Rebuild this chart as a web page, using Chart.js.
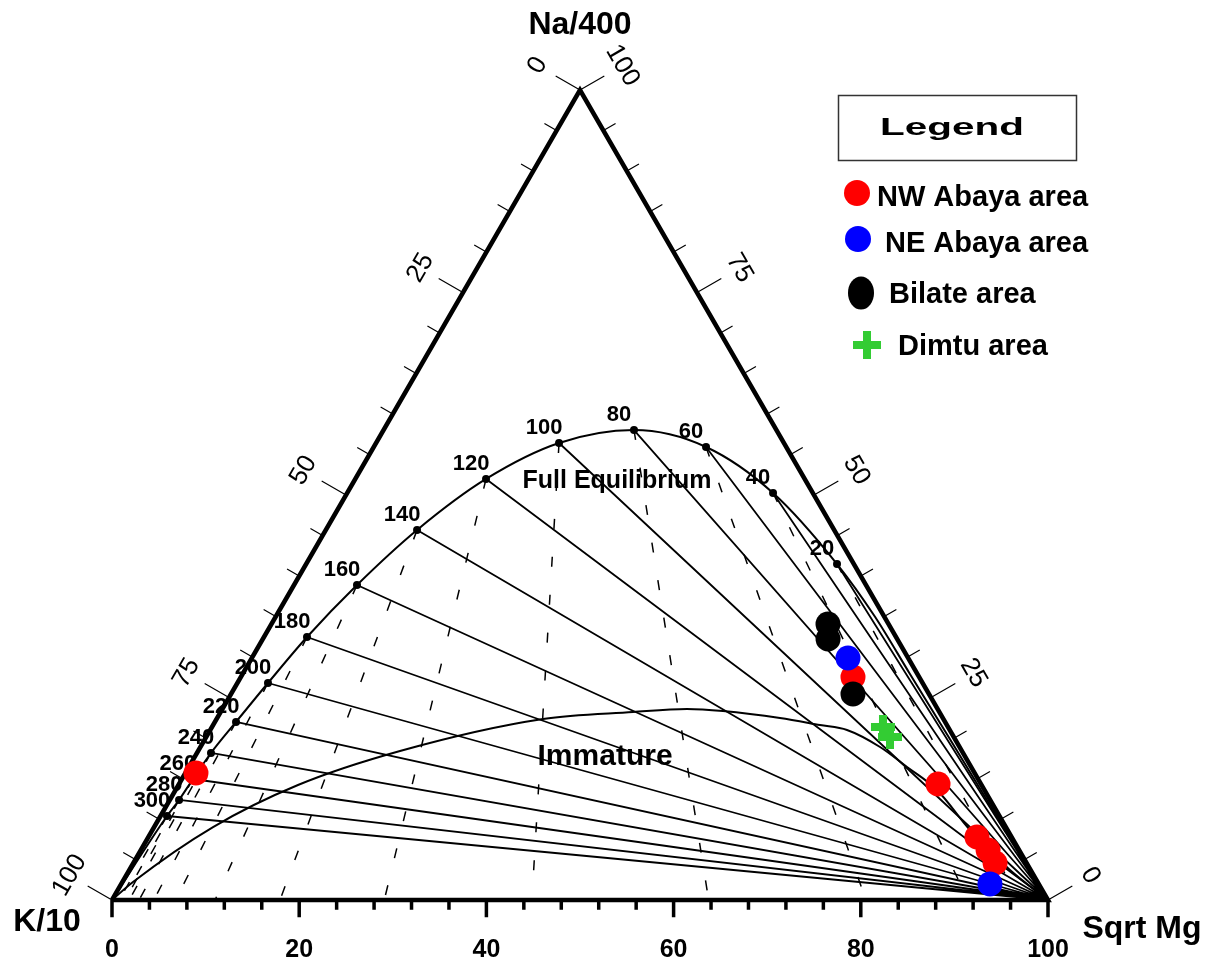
<!DOCTYPE html>
<html>
<head>
<meta charset="utf-8">
<title>Na-K-Mg ternary diagram</title>
<script src="https://cdn.jsdelivr.net/npm/chart.js@4.4.0/dist/chart.umd.min.js"></script>
<style>
  html, body { margin: 0; padding: 0; background: #fff; }
  #wrap { width: 1211px; height: 966px; }
</style>
</head>
<body>
<div id="wrap"><canvas id="giggenbach" width="1211" height="966"></canvas></div>
<script>
// --- Data (all in % of the triangle: Sqrt Mg, Na/400 ; K/10 = the rest) ---

// Full equilibrium line, temperature marks (°C)
const eqTemps = [300, 280, 260, 240, 220, 200, 180, 160, 140, 120, 100, 80, 60, 40, 20];
const eqMg = [0.69, 0.99, 1.18, 1.50, 2.26, 3.27, 4.60, 6.73, 9.75, 13.97, 19.55, 26.76, 35.50, 45.50, 56.72];
const eqNa = [10.37, 12.35, 14.94, 18.15, 21.98, 26.79, 32.47, 38.89, 45.68, 51.98, 56.42, 58.02, 55.93, 50.25, 41.48];
// full equilibrium line below 20 °C, down to the Mg corner
const eqTailMg = [64.0, 71.2, 79.45, 87.65, 94.85, 100];
const eqTailNa = [35.0, 28.0, 20.0, 12.0, 5.0, 0];

// "Immature" waters line
const immMg = [0, 1.13, 6.29, 12.77, 21.57, 34.87, 44.06, 49.64, 53.61, 60.13, 64.84, 68.03, 72.61, 76.73, 81.35, 87.35, 94.09, 100];
const immNa = [0, 2.22, 9.01, 14.20, 18.40, 22.35, 23.21, 23.58, 23.33, 22.47, 21.60, 20.99, 18.89, 16.42, 13.58, 8.64, 3.70, 0];

// Samples
const nwMg = [1.13, 65.40, 81.09, 88.52, 90.51, 92.06];
const nwNa = [15.68, 27.53, 14.32, 7.78, 6.17, 4.57];
const neMg = [63.69, 92.81];
const neNa = [29.88, 1.98];
const bilMg = [59.46, 60.39, 66.45];
const bilNa = [34.07, 32.22, 25.43];
const dimMg = [71.69, 73.06];
const dimNa = [21.36, 20.12];

// Axis labels
const baseLabels = [0, 20, 40, 60, 80, 100];
const edgeLabels = [0, 25, 50, 75, 100];

// --- Helpers ---
const SQ3 = Math.sqrt(3) / 2;
const FONT = '"Liberation Sans", Arial, Helvetica, sans-serif';
const GAP = { x: null, y: null };

// ternary (Mg, Na) -> plane coordinates
function tern(mg, na) {
    return { x: mg + na / 2, y: na * SQ3 };
}
const toPoints = (mgs, nas) => mgs.map((m, i) => tern(m, nas[i]));

// equilibrium line = K corner + temperature marks + tail
const eqLine = [tern(0, 0)].concat(toPoints(eqMg, eqNa), toPoints(eqTailMg, eqTailNa));

// Na/K isotherms: from each mark to the Mg corner
const naKLines = [];
// K/Mg isotherms: from each mark down to the K-Mg side (away from the Na corner)
const kMgLines = [];
eqMg.forEach((m, i) => {
    const na = eqNa[i];
    const k = 100 - m - na;
    naKLines.push(tern(m, na), tern(100, 0), GAP);
    kMgLines.push(tern(m, na), tern(m / (m + k) * 100, 0), GAP);
});

// triangle frame
const frame = [tern(0, 0), tern(100, 0), tern(0, 100), tern(0, 0)];

// ticks
const baseTicks = [];
for (let v = 0; v <= 100; v += 4) {
    const len = v % 20 === 0 ? 1.85 : 1.05;
    baseTicks.push({ x: v, y: 0 }, { x: v, y: -len }, GAP);
}
const sideTicks = [];
for (let v = 0; v <= 100; v += 5) {
    const len = v % 25 === 0 ? 3.0 : 1.5;
    const l = tern(0, 100 - v);   // left side: K/10 = v
    sideTicks.push(l, { x: l.x - SQ3 * len, y: l.y + 0.5 * len }, GAP);
    const r = tern(100 - v, v);   // right side: Na/400 = v
    sideTicks.push(r, { x: r.x + SQ3 * len, y: r.y + 0.5 * len }, GAP);
}

function lineSet(data, width, extra) {
    return Object.assign({
        data: data,
        showLine: true,
        borderColor: '#000',
        borderWidth: width,
        pointRadius: 0,
        fill: false,
        clip: false
    }, extra || {});
}

function markerSet(label, data, color, extra) {
    return Object.assign({
        label: label,
        data: data,
        pointStyle: 'circle',
        pointRadius: 12.5,
        pointBackgroundColor: color,
        pointBorderColor: color,
        pointBorderWidth: 0,
        clip: false
    }, extra || {});
}

// --- Texts: labels, axis titles, legend ---
const textPlugin = {
    id: 'ternaryText',
    afterDatasetDraw(chart, args) {
        // temperatures and region names go under the sample markers
        if (args.index !== 4) return;
        const ctx = chart.ctx;
        const xs = chart.scales.x, ys = chart.scales.y;
        const pix = p => [xs.getPixelForValue(p.x), ys.getPixelForValue(p.y)];
        ctx.save();
        ctx.fillStyle = '#000';
        ctx.textAlign = 'center';
        ctx.textBaseline = 'middle';
        ctx.font = 'bold 22px ' + FONT;
        eqTemps.forEach((t, i) => {
            const [x, y] = pix(tern(eqMg[i], eqNa[i]));
            ctx.fillText(String(t), x - 15, y - 15);
        });
        ctx.font = 'bold 25px ' + FONT;
        let [x, y] = pix(tern(28.1, 51.7));
        ctx.fillText('Full Equilibrium', x, y);
        ctx.font = 'bold 30px ' + FONT;
        [x, y] = pix(tern(43.85, 17.65));
        ctx.fillText('Immature', x, y);
        ctx.restore();
    },
    afterDraw(chart) {
        const ctx = chart.ctx;
        const xs = chart.scales.x, ys = chart.scales.y;
        const pix = p => [xs.getPixelForValue(p.x), ys.getPixelForValue(p.y)];
        ctx.save();
        ctx.fillStyle = '#000';
        ctx.textAlign = 'center';
        ctx.textBaseline = 'middle';

        // bottom axis (Sqrt Mg)
        ctx.font = 'bold 25px ' + FONT;
        baseLabels.forEach(v => {
            const [x, y] = pix(tern(v, 0));
            ctx.fillText(String(v), x, y + 50);
        });

        // side labels, rotated along each side
        ctx.font = '26px ' + FONT;
        const d = 49;
        edgeLabels.forEach(v => {
            let [x, y] = pix(tern(0, 100 - v));
            ctx.save();
            ctx.translate(x - SQ3 * d, y - 0.5 * d);
            ctx.rotate(-Math.PI / 3);
            ctx.fillText(String(v), 0, 0);
            ctx.restore();
            [x, y] = pix(tern(100 - v, v));
            ctx.save();
            ctx.translate(x + SQ3 * d, y - 0.5 * d);
            ctx.rotate(Math.PI / 3);
            ctx.fillText(String(v), 0, 0);
            ctx.restore();
        });

        // corner titles
        ctx.font = 'bold 32px ' + FONT;
        let [x, y] = pix(tern(0, 100));
        ctx.fillText('Na/400', x, y - 65);
        [x, y] = pix(tern(0, 0));
        ctx.fillText('K/10', x - 65, y + 22);
        [x, y] = pix(tern(100, 0));
        ctx.fillText('Sqrt Mg', x + 94, y + 29);

        // legend box
        ctx.strokeStyle = '#333';
        ctx.lineWidth = 1.5;
        ctx.strokeRect(838.5, 95.5, 238, 65);
        ctx.save();
        ctx.translate(952, 135);
        ctx.scale(1.76, 1);
        ctx.textBaseline = 'alphabetic';
        ctx.font = 'bold 23px ' + FONT;
        ctx.fillText('Legend', 0, 0);
        ctx.restore();

        // legend entries
        ctx.textAlign = 'left';
        ctx.textBaseline = 'alphabetic';
        ctx.font = 'bold 29px ' + FONT;

        ctx.fillStyle = '#ff0000';
        ctx.beginPath(); ctx.arc(857, 193, 13, 0, Math.PI * 2); ctx.fill();
        ctx.fillStyle = '#000';
        ctx.fillText('NW Abaya area', 877, 206);

        ctx.fillStyle = '#0000ff';
        ctx.beginPath(); ctx.arc(858, 239, 13, 0, Math.PI * 2); ctx.fill();
        ctx.fillStyle = '#000';
        ctx.fillText('NE Abaya area', 885, 252);

        ctx.beginPath(); ctx.ellipse(861, 293, 13, 16.5, 0, 0, Math.PI * 2); ctx.fill();
        ctx.fillText('Bilate area', 889, 303);

        ctx.strokeStyle = '#33cc33';
        ctx.lineWidth = 8;
        ctx.beginPath();
        ctx.moveTo(853, 345); ctx.lineTo(881, 345);
        ctx.moveTo(867, 331); ctx.lineTo(867, 359);
        ctx.stroke();
        ctx.fillStyle = '#000';
        ctx.fillText('Dimtu area', 898, 355);

        ctx.restore();
    }
};

// --- Chart ---
const ctx_tern = document.getElementById('giggenbach').getContext('2d');

new Chart(ctx_tern, {
    type: 'scatter',
    data: {
        datasets: [
            markerSet('Dimtu area', toPoints(dimMg, dimNa), '#33cc33', {
                pointStyle: 'cross', pointRadius: 12, pointBorderWidth: 8
            }),
            markerSet('Bilate area', toPoints(bilMg, bilNa), '#000000'),
            markerSet('NE Abaya area', toPoints(neMg, neNa), '#0000ff'),
            markerSet('NW Abaya area', toPoints(nwMg, nwNa), '#ff0000'),
            markerSet('Temperature marks', toPoints(eqMg, eqNa), '#000000', { pointRadius: 4 }),
            lineSet(eqLine, 2, { cubicInterpolationMode: 'monotone' }),
            lineSet(toPoints(immMg, immNa), 2, { cubicInterpolationMode: 'monotone' }),
            lineSet(naKLines, 1.8),
            lineSet(kMgLines, 1.5, { borderDash: [10, 28] }),
            lineSet(frame, 4.5, { borderJoinStyle: 'miter' }),
            lineSet(baseTicks, 3.5),
            lineSet(sideTicks, 1.2)
        ]
    },
    options: {
        responsive: false,
        animation: false,
        events: [],
        layout: { padding: { left: 112, right: 163, top: 90, bottom: 66 } },
        scales: {
            x: { type: 'linear', min: 0, max: 100, display: false },
            y: { type: 'linear', min: 0, max: 100 * SQ3, display: false }
        },
        plugins: {
            legend: { display: false },
            tooltip: { enabled: false }
        }
    },
    plugins: [textPlugin]
});
</script>
</body>
</html>
